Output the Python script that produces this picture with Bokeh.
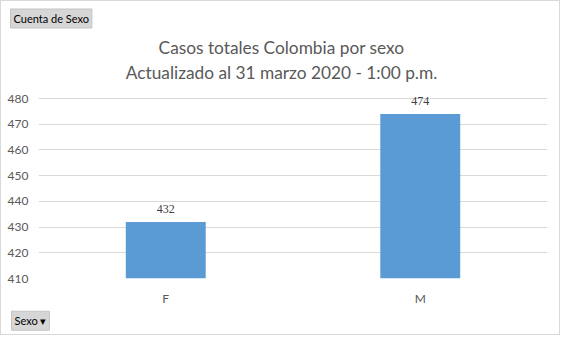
from bokeh.plotting import figure
from bokeh.models import ColumnDataSource, Range1d, FixedTicker, LabelSet, Label, Title
from bokeh.embed import file_html
from bokeh.resources import INLINE

categories = ["F", "M"]
values = [432, 474]
title_lines = ["Casos totales Colombia por sexo", "Actualizado al 31 marzo 2020 - 1:00 p.m."]
y_ticks = [410, 420, 430, 440, 450, 460, 470, 480]

W, H = 560, 335   # plus 1px border each side -> 562x337
FONT = "Lato"
TOP_BORDER = 30
# frame spans page y (1+TOP_BORDER)..278; 410..480 occupies 98..278, room above holds the title
FRAME_TOP, FRAME_BOTTOM, GRID_TOP = 1 + TOP_BORDER, 278, 98
y_max = 410 + 70 * (FRAME_BOTTOM - FRAME_TOP) / (FRAME_BOTTOM - GRID_TOP)

src = ColumnDataSource(dict(cat=categories, val=values, lbl=[str(v) for v in values]))

p = figure(width=W, height=H, x_range=categories, y_range=Range1d(410, y_max),
           output_backend="svg", toolbar_location=None,
           min_border_left=37, min_border_right=14, min_border_top=TOP_BORDER, min_border_bottom=58)
p.styles = {"border": "1px solid #d9d9d9"}
p.vbar(x="cat", top="val", bottom=410, width=0.314, source=src, color="#5b9bd5", line_color=None)
p.add_layout(LabelSet(x="cat", y="val", text="lbl", source=src, text_align="center",
                      text_baseline="bottom", y_offset=9, text_font_size="12px",
                      text_color="#404040", text_font=FONT))

p.outline_line_color = None
p.xgrid.grid_line_color = None
p.ygrid.grid_line_color = "#d9d9d9"
p.ygrid.ticker = FixedTicker(ticks=y_ticks)
p.yaxis.ticker = FixedTicker(ticks=y_ticks)
for ax in (p.xaxis[0], p.yaxis[0]):
    ax.axis_line_color = None
    ax.major_tick_line_color = None
    ax.minor_tick_line_color = None
    ax.major_tick_out = 0
    ax.major_label_text_font = FONT
    ax.major_label_text_font_size = "12px"
    ax.major_label_text_color = "#595959"
p.yaxis.major_label_standoff = 10
p.xaxis.major_label_standoff = 12

# chart title, inside the frame above the grid
for i, t in enumerate(title_lines):
    p.add_layout(Label(x=281 - 38, y=FRAME_BOTTOM - (47 + 25 * i), x_units="screen", y_units="screen",
                       text=t, text_align="center", text_baseline="middle", text_font=FONT,
                       text_font_size="17.3px", text_color="#595959"))

# pivot buttons
p.title.text = "Cuenta de Sexo"
p.title.align = "left"
p.title.offset = -28
p.title.standoff = 7
p.title.text_font = FONT
p.title.text_font_size = "11px"
p.title.text_font_style = "normal"
p.title.text_color = "#000000"
p.title.background_fill_color = "#d6d6d6"
p.title.border_line_color = "#c4c4c4"
p.title.padding = 3
p.add_layout(Title(text="Sexo \u25be", align="left", offset=-27, standoff=0.5,
                   text_font=FONT, text_font_size="11px", text_font_style="normal",
                   text_color="#000000", background_fill_color="#d6d6d6",
                   border_line_color="#c4c4c4", padding=3), "below")

open("out.html", "w").write(file_html(p, INLINE))
